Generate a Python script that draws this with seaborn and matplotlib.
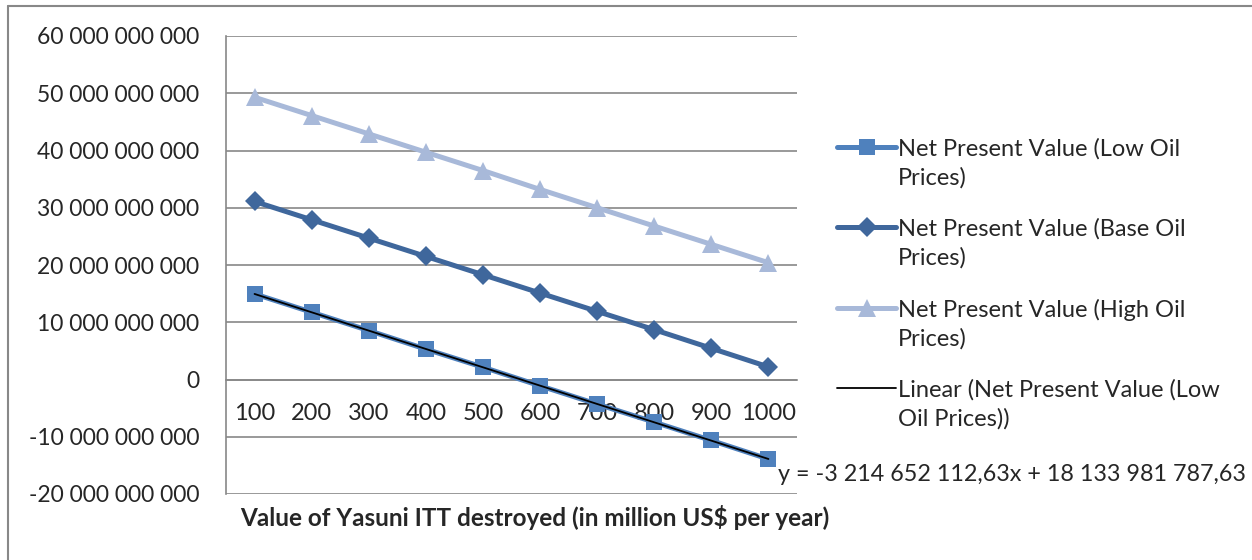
import numpy as np
import pandas as pd
import matplotlib
matplotlib.use("Agg")
import matplotlib.pyplot as plt
import seaborn as sns
from matplotlib.ticker import FuncFormatter, FixedLocator
from matplotlib.lines import Line2D
from matplotlib.legend_handler import HandlerLine2D

# Data (values in US$)
categories = ["100", "200", "300", "400", "500", "600", "700", "800", "900", "1000"]
npv_low = [14.95e9, 11.75e9, 8.55e9, 5.3e9, 2.15e9, -1.1e9, -4.3e9, -7.45e9, -10.65e9, -13.9e9]
npv_base = [31.1e9, 27.9e9, 24.7e9, 21.5e9, 18.3e9, 15.1e9, 11.9e9, 8.7e9, 5.45e9, 2.2e9]
npv_high = [49.3e9, 46.1e9, 42.9e9, 39.7e9, 36.5e9, 33.2e9, 30.0e9, 26.8e9, 23.6e9, 20.4e9]
series_names = ["Net Present Value (Low Oil\nPrices)",
                "Net Present Value (Base Oil\nPrices)",
                "Net Present Value (High Oil\nPrices)"]
trend_name = "Linear (Net Present Value (Low\nOil Prices))"
trend_label = "y = -3 214 652 112,63x + 18 133 981 787,63"
x_title = "Value of Yasuni ITT destroyed (in million US$ per year)"

sns.set_style("white")
plt.rcParams['font.family'] = ['Lato', 'DejaVu Sans']

colors = ["#4F81BD", "#3F679C", "#A8B9D9"]
markers = ["s", "D", "^"]
msizes = [12, 10, 13]


# legend handles sit level with the first line of a two-line label
class FirstLineHandler(HandlerLine2D):
    def create_artists(self, legend, orig_handle, xdescent, ydescent, width, height, fontsize, trans):
        shift = 0.7 * fontsize
        return super().create_artists(legend, orig_handle, xdescent, ydescent - 2 * shift,
                                      width, height, fontsize, trans)


pos = np.arange(1, len(categories) + 1)
df = pd.DataFrame({"pos": pos, "low": npv_low, "base": npv_base, "high": npv_high})

fig = plt.figure(figsize=(12.52, 5.6), dpi=100)
ax = fig.add_axes([226 / 1252, 66 / 560, 571 / 1252, 458 / 560])

# chart area border (top and left visible)
fig.add_artist(plt.Line2D([8 / 1252, 8 / 1252], [0, 554 / 560], color="#888888", lw=1.5))
fig.add_artist(plt.Line2D([8 / 1252, 1], [554 / 560, 554 / 560], color="#888888", lw=1.5))

for col, name, c, m, ms in zip(["low", "base", "high"], series_names, colors, markers, msizes):
    sns.lineplot(data=df, x="pos", y=col, ax=ax, color=c, lw=3.6, marker=m,
                 markersize=ms, markeredgewidth=0, label=name, zorder=3)

# linear trendline for the low series
coef = np.polyfit(df["pos"], df["low"], 1)
sns.lineplot(x=pos, y=np.polyval(coef, pos), ax=ax, color="black", lw=1.3,
             label=trend_name, zorder=4)
ax.text(10.17, -16.6e9, trend_label, fontsize=16.8, ha="left", va="center", zorder=5,
        clip_on=False)

ax.set_xlim(0.5, 10.5)
ax.set_ylim(-20e9, 60e9)
ax.set_yticks(np.arange(-20e9, 60e9 + 1, 10e9))
ax.yaxis.set_major_formatter(FuncFormatter(lambda v, p: f"{v:,.0f}".replace(",", " ")))
ax.yaxis.grid(True, color="#888888", lw=1.2)
ax.set_axisbelow(True)

ax.set_xticks(pos)
ax.set_xticklabels(categories)
ax.xaxis.set_minor_locator(FixedLocator(np.arange(0.5, 11, 1)))
ax.tick_params(axis="x", which="major", length=0, pad=17, labelsize=17)
ax.tick_params(axis="x", which="minor", length=7, width=1.2, color="#888888", direction="out")
ax.tick_params(axis="y", length=8, width=1.2, color="#888888", direction="out", pad=11, labelsize=16.5)

for s in ["top", "right"]:
    ax.spines[s].set_visible(False)
ax.spines["bottom"].set_position(("data", 0))
ax.spines["bottom"].set_color("#888888")
ax.spines["bottom"].set_linewidth(1.2)
ax.spines["left"].set_color("#888888")
ax.spines["left"].set_linewidth(1.2)
ax.set_xlabel("")
ax.set_ylabel("")

fig.text(535 / 1252, 43 / 560, x_title, ha="center", va="center", fontsize=17.5, fontweight="bold")

handles, labels = ax.get_legend_handles_labels()
ax.legend_.remove()
leg = fig.legend(handles, labels, loc="upper left", bbox_to_anchor=(828 / 1252, 431 / 560),
                 frameon=False, fontsize=17, handlelength=2.5, labelspacing=1.27,
                 handletextpad=0.05, borderaxespad=0,
                 handler_map={Line2D: FirstLineHandler()})
for t in leg.get_texts():
    t.set_linespacing(1.4)

fig.savefig("out.png", dpi=100)
